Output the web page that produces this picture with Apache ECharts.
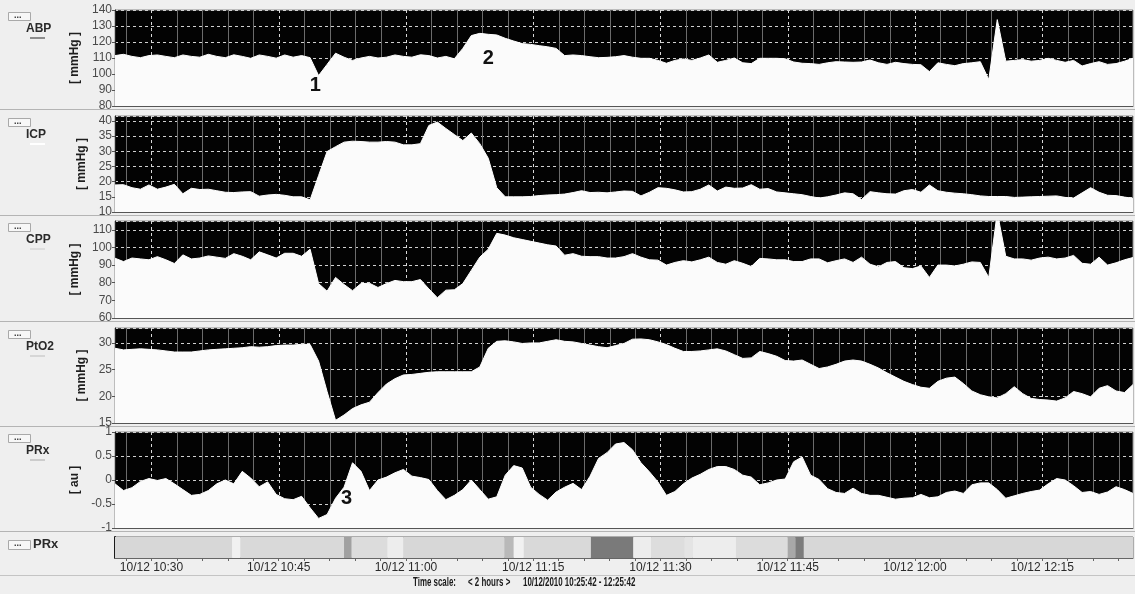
<!DOCTYPE html>
<html>
<head>
<meta charset="utf-8">
<title>ABP ICP CPP PtO2 PRx</title>
<script src="https://cdn.jsdelivr.net/npm/echarts@6/dist/echarts.min.js"></script>
<style>
    html, body { margin: 0; padding: 0; background: #efefef; }
    #chart { width: 1135px; height: 594px; }
</style>
</head>
<body>
<div id="chart"></div>
<script>
// one sample per minute, minutes counted from 10:00 (first sample 10:25:42)
var sampleStart = 25.7;
var sampleStep = 1;

var abpValues = [
    111.5, 112.3, 111, 110.2, 111.5, 111.9, 111, 110.2, 111.9, 111,
    110.5, 112.3, 111, 110.2, 112, 111, 109.8, 111.9, 111, 109.9,
    111.9, 110.5, 111.5, 110.2, 99, 106, 113, 110.5, 108.5, 110,
    111, 110, 110.5, 111.9, 111, 110.5, 112, 111.5, 110, 111,
    109.5, 116, 124, 125.4, 124.8, 124.4, 122.3, 120.6, 119, 118.5,
    117.7, 117, 116, 111.5, 111.9, 111.5, 110.8, 110.2, 110.4, 110.8,
    111.5, 110.5, 109.8, 109.8, 108.5, 106.7, 108.5, 109.4, 108.5, 110,
    111.9, 107.3, 108.5, 110, 107, 106.5, 109.8, 109.8, 109.8, 109.5,
    107.5, 106.7, 106.5, 106, 107, 107.7, 107.5, 107.3, 107.5, 108.75,
    107, 106, 107.3, 106.5, 106, 105.8, 101.5, 107, 106, 105.2,
    106.5, 107, 107.7, 96.5, 134, 108, 108.5, 109, 108, 108.5,
    109.8, 108.5, 107.3, 108.5, 105, 106.5, 107.7, 106, 106.5, 108,
    109.8
];
var icpValues = [
    18.9, 19, 18, 17.5, 18.9, 17.5, 18.2, 19.1, 16, 17.8,
    17.4, 17.5, 17, 16.5, 16.4, 16.6, 16.7, 15.2, 15.6, 15.8,
    15.5, 15, 15, 14, 22, 29.9, 31.5, 33, 33.3, 33.2,
    33, 33, 33.2, 33, 32.1, 32.1, 32.5, 38.5, 39.6, 37.5,
    35.5, 33.5, 36, 32.5, 27.7, 18, 15, 15, 15, 15.1,
    15.4, 15.6, 15.7, 15.9, 16.4, 17, 16.4, 16.5, 16.3, 16.6,
    16.9, 16.8, 15.3, 16.5, 18, 17.8, 17.3, 16.6, 16.7, 17.5,
    18.9, 16.9, 18.2, 17.8, 17.9, 19, 17.5, 17.7, 16.6, 16.3,
    16, 15.7, 15.1, 14.6, 15, 15.6, 16.3, 16, 14.1, 16.7,
    16.3, 16, 15.9, 17, 17.4, 16.5, 18.9, 17, 16.5, 16.2,
    16, 15.7, 15.3, 15.1, 15.1, 15.1, 14.8, 14.9, 15, 15.1,
    15.2, 15.3, 14.8, 14.6, 16.3, 18, 16.5, 15.5, 15.4, 14.9,
    14.5
];
var cppValues = [
    93.9, 92, 94, 93.5, 93, 94.8, 93, 90.9, 95.8, 93.5,
    94, 95.2, 94.5, 93.8, 96.5, 95, 93, 97.5, 95.8, 94,
    96.7, 96.7, 95, 99, 79.5, 75.2, 83, 79, 75.5, 79.5,
    79.7, 77.3, 79.5, 81.3, 80.6, 80.6, 81.8, 76.5, 71.5, 75.8,
    76, 79.5, 87, 94.5, 99, 108, 107, 105.5, 104.5, 103.5,
    102.5, 101.5, 100.8, 95.6, 96.5, 95, 94.8, 94.8, 94, 94,
    94.8, 96.5, 94.5, 93, 92.8, 90, 91.5, 92.5, 91.8, 93,
    94.5, 91.5, 90.5, 92.5, 91, 89.2, 93.8, 93.5, 93, 93,
    92, 92, 93.5, 93.5, 91.3, 92.5, 93.5, 91.5, 94.5, 90.5,
    89, 91.5, 92, 88.5, 88, 89.5, 83, 90, 90, 89.5,
    90.5, 91.8, 91.5, 83, 120, 95, 93.5, 93.5, 92.8, 94,
    94.5, 93.5, 94, 95.5, 91, 90.5, 94.5, 90, 91.3, 93,
    94.3
];
var pto2Values = [
    29, 28.7, 28.8, 28.9, 28.8, 28.7, 28.5, 28.3, 28.3, 28.3,
    28.5, 28.7, 28.8, 28.9, 29, 29.1, 29.3, 29.2, 29.3, 29.5,
    29.6, 29.6, 29.75, 29.7, 26.6, 20.9, 15.5, 16.5, 17.7, 18.4,
    18.9, 20.7, 22.3, 23.3, 24, 24.1, 24.3, 24.5, 24.6, 24.6,
    24.6, 24.6, 24.6, 25.5, 29, 30.3, 30.4, 30.2, 29.9, 30,
    30, 30.3, 30.6, 30.3, 30.2, 29.9, 29.6, 29.3, 29.1, 29.5,
    29.9, 30.7, 30.75, 30.6, 30.2, 29.7, 29, 28.4, 28.4, 28.5,
    28.7, 28.9, 28.5, 27.8, 27.1, 27.2, 28.4, 28, 27.5, 26.7,
    26.6, 26.8, 26, 25.2, 25.5, 26, 26.6, 26.8, 26.6, 26,
    25.3, 24.4, 23.6, 22.8, 22.2, 21.7, 21.5, 22.8, 23.4, 23.6,
    22.4, 21, 20.3, 19.9, 19.7, 20.5, 21.8, 20.5, 19.6, 19.4,
    19.3, 19.1, 19.7, 20.9, 20.5, 19.9, 21.5, 22, 21, 20.7,
    22.2
];
var prxValues = [
    -0.08, -0.22, -0.16, -0.03, 0.03, -0.01, 0.03, -0.08, -0.2, -0.32,
    -0.3, -0.22, -0.08, 0, -0.08, 0.18, 0.04, -0.14, -0.04, -0.3,
    -0.39, -0.41, -0.34, -0.58, -0.8, -0.72, -0.38, -0.15, 0.36, 0.18,
    -0.22, 0, 0.06, 0.15, 0.22, 0.08, 0.05, 0.01, -0.22, -0.41,
    -0.32, -0.2, 0, -0.2, -0.4, -0.35, 0.1, 0.3, 0.25, -0.15,
    -0.3, -0.42, -0.25, -0.15, -0.07, -0.2, 0.08, 0.45, 0.57, 0.75,
    0.78, 0.63, 0.36, 0.17, -0.04, -0.32, -0.24, -0.08, 0.04, 0.12,
    0.22, 0.28, 0.28, 0.22, 0.1, 0.06, -0.1, -0.06, 0, 0.02,
    0.38, 0.48, 0.1, 0.01, -0.18, -0.26, -0.28, -0.17, -0.28, -0.32,
    -0.32, -0.36, -0.4, -0.38, -0.37, -0.3, -0.37, -0.35, -0.26, -0.23,
    -0.28, -0.1, -0.06, -0.06, -0.2, -0.38, -0.33, -0.28, -0.24, -0.21,
    -0.08, 0.03, 0, -0.12, -0.26, -0.24, -0.3, -0.25, -0.14, -0.2,
    -0.28
];

// PRx colour band: segment start / end (minutes from 10:00) and shade level
var bandStart = [25.7, 39.5, 40.5, 52.7, 53.6, 57.8, 59.7, 71.6, 72.7, 73.9,
    81.8, 86.8, 88.9, 92.8, 93.8, 98.9, 105.0, 105.9, 106.9];
var bandEnd = [39.5, 40.5, 52.7, 53.6, 57.8, 59.7, 71.6, 72.7, 73.9, 81.8,
    86.8, 88.9, 92.8, 93.8, 98.9, 105.0, 105.9, 106.9, 145.7];
var bandLevel = [0.22, 0.01, 0.2, 0.65, 0.18, 0.04, 0.22, 0.46, 0.01, 0.2,
    0.97, 0.04, 0.17, 0.11, 0.04, 0.18, 0.6, 0.95, 0.22];

// time ticks (minutes from 10:00)
var labelMinutes = [30, 45, 60, 75, 90, 105, 120, 135];
var gridMinutes = [27, 30, 33, 36, 39, 42, 45, 48, 51, 54, 57, 60, 63, 66,
    69, 72, 75, 78, 81, 84, 87, 90, 93, 96, 99, 102, 105, 108, 111, 114,
    117, 120, 123, 126, 129, 132, 135, 138, 141, 144];

// numbered event marks
var abpNotes = [['1', 49.3, 92.8], ['2', 69.7, 109.8]];
var prxNotes = [['3', 53.0, -0.39]];

var panels = [
    {name: 'ABP', unit: '[ mmHg ]', values: abpValues, min: 80, max: 140, step: 10, top: 10, height: 96, swatch: '#8c8c8c'},
    {name: 'ICP', unit: '[ mmHg ]', values: icpValues, min: 10, max: 41.6, step: 5, top: 116, height: 96, swatch: '#ffffff'},
    {name: 'CPP', unit: '[ mmHg ]', values: cppValues, min: 60, max: 115, step: 10, top: 221, height: 97, swatch: '#dddddd'},
    {name: 'PtO2', unit: '[ mmHg ]', values: pto2Values, min: 15, max: 32.8, step: 5, top: 328, height: 95, swatch: '#d6d6d6'},
    {name: 'PRx', unit: '[ au ]', values: prxValues, min: -1, max: 1, step: 0.5, top: 432, height: 96, swatch: '#cccccc'}
];

var FONT = '"Liberation Sans", Arial, sans-serif';

function pad(n) {
    return n < 10 ? '0' + n : '' + n;
}

function clockLabel(m) {
    var h = 10 + Math.floor(m / 60);
    return '10/12 ' + h + ':' + pad(Math.round(m % 60));
}

function toPoints(values) {
    var pts = [];
    for (var i = 0; i < values.length; i++) {
        pts.push([sampleStart + i * sampleStep, values[i]]);
    }
    return pts;
}

function renderGridLine(params, api) {
    var cs = params.coordSys;
    var x = Math.round(api.coord([api.value(0), api.value(1)])[0]) + 0.5;
    var major = Math.round(api.value(0)) % 15 === 0;
    return {
        type: 'line',
        shape: {x1: x, y1: cs.y, x2: x, y2: cs.y + cs.height},
        style: major ?
            {stroke: '#d8d8d8', lineWidth: 1, lineDash: [3, 3]} :
            {stroke: '#6b6b6b', lineWidth: 1}
    };
}

function renderBand(params, api) {
    var a = api.coord([api.value(0), 1]);
    var b = api.coord([api.value(1), 0]);
    return {
        type: 'rect',
        shape: {x: a[0], y: a[1], width: b[0] - a[0], height: b[1] - a[1]},
        style: {fill: api.visual('color')}
    };
}

function noteMarks(notes) {
    return {
        symbol: 'circle',
        symbolSize: 0,
        silent: true,
        label: {
            show: true,
            position: 'inside',
            formatter: '{b}',
            fontFamily: FONT,
            fontSize: 20,
            fontWeight: 'bold',
            color: '#111'
        },
        data: notes.map(function(n) {
            return {name: n[0], coord: [n[1], n[2]]};
        })
    };
}

function buildOption() {
    var grids = [], xAxes = [], yAxes = [], series = [], graphics = [];

    panels.forEach(function(p, i) {
        grids.push({
            left: 115, right: 2, top: p.top, height: p.height,
            show: true, backgroundColor: '#030303',
            borderColor: '#8a8a8a', borderWidth: 1
        });
        xAxes.push({
            type: 'value', gridIndex: i, min: sampleStart, max: 145.7,
            axisLine: {show: true, onZero: false, lineStyle: {color: '#555'}},
            axisTick: {show: false},
            axisLabel: {show: false},
            splitLine: {show: false}
        });
        yAxes.push({
            type: 'value', gridIndex: i, min: p.min, max: p.max, interval: p.step,
            name: p.unit,
            nameLocation: 'middle',
            nameRotate: 90,
            nameGap: 21,
            nameTextStyle: {fontFamily: FONT, fontSize: 12, fontWeight: 'bold', color: '#1e1e1e'},
            axisLine: {show: true, lineStyle: {color: '#222'}},
            axisTick: {show: true, length: 3, lineStyle: {color: '#555'}},
            axisLabel: {
                margin: 3, fontFamily: FONT, fontSize: 12, color: '#4a4a4a',
                showMaxLabel: p.max % p.step === 0
            },
            splitLine: {show: true, lineStyle: {color: '#d0d0d0', width: 1, type: [3, 3]}}
        });
        series.push({
            type: 'custom',
            xAxisIndex: i, yAxisIndex: i,
            silent: true,
            z: 1,
            renderItem: renderGridLine,
            data: gridMinutes.map(function(m) { return [m, p.min]; })
        });
        var line = {
            name: p.name,
            type: 'line',
            xAxisIndex: i, yAxisIndex: i,
            data: toPoints(p.values),
            symbol: 'none',
            silent: true,
            z: 3,
            lineStyle: {color: '#ffffff', width: 1},
            areaStyle: {color: '#fbfbfb', opacity: 1, origin: 'start'}
        };
        if (p.name === 'ABP') line.markPoint = noteMarks(abpNotes);
        if (p.name === 'PRx') line.markPoint = noteMarks(prxNotes);
        series.push(line);

        // left side: button, title and colour swatch
        graphics.push({
            type: 'rect', left: 8, top: p.top + 2,
            shape: {width: 22, height: 8},
            style: {fill: '#f7f7f7', stroke: '#a9a9a9', lineWidth: 1}
        });
        graphics.push({
            type: 'text', left: 14, top: p.top + 1,
            style: {text: '...', fontSize: 9, fontWeight: 'bold', fill: '#333', fontFamily: FONT}
        });
        graphics.push({
            type: 'text', left: 26, top: p.top + 13,
            style: {text: p.name, fontSize: 12, fontWeight: 'bold', fill: '#2a2a2a', fontFamily: FONT}
        });
        graphics.push({
            type: 'rect', left: 30, top: p.top + 27,
            shape: {width: 15, height: 2},
            style: {fill: p.swatch}
        });
        // panel separator
        graphics.push({
            type: 'rect', left: 0, top: p.top + p.height + 3,
            shape: {width: 1135, height: 1},
            style: {fill: '#b4b4b4'}
        });
    });

    // PRx colour band
    var bi = panels.length;
    grids.push({
        left: 115, right: 2, top: 537, height: 21,
        show: true, backgroundColor: '#d8d8d8',
        borderColor: '#6a6a6a', borderWidth: 1
    });
    xAxes.push({
        type: 'value', gridIndex: bi, min: sampleStart, max: 145.7,
        axisLine: {show: true, onZero: false, lineStyle: {color: '#666'}},
        axisTick: {show: true, length: 3, customValues: gridMinutes, lineStyle: {color: '#666'}},
        axisLabel: {
            show: true, margin: 4, customValues: labelMinutes,
            fontFamily: FONT, fontSize: 12, color: '#2a2a2a',
            formatter: clockLabel
        },
        splitLine: {show: false}
    });
    yAxes.push({
        type: 'value', gridIndex: bi, min: 0, max: 1,
        axisLine: {show: true, lineStyle: {color: '#1a1a1a', width: 2}},
        axisTick: {show: false},
        axisLabel: {show: false},
        splitLine: {show: false}
    });
    var bandData = bandStart.map(function(s, i) {
        return [s, bandEnd[i], bandLevel[i]];
    });
    series.push({
        type: 'custom',
        xAxisIndex: bi, yAxisIndex: bi,
        silent: true,
        renderItem: renderBand,
        encode: {x: [0, 1]},
        data: bandData
    });

    graphics.push({
        type: 'rect', left: 8, top: 540,
        shape: {width: 22, height: 9},
        style: {fill: '#f7f7f7', stroke: '#a9a9a9', lineWidth: 1}
    });
    graphics.push({
        type: 'text', left: 14, top: 539,
        style: {text: '...', fontSize: 9, fontWeight: 'bold', fill: '#333', fontFamily: FONT}
    });
    graphics.push({
        type: 'text', left: 33, top: 538,
        style: {text: 'PRx', fontSize: 13, fontWeight: 'bold', fill: '#2a2a2a', fontFamily: FONT}
    });
    graphics.push({
        type: 'rect', left: 0, top: 575,
        shape: {width: 1135, height: 1},
        style: {fill: '#c4c4c4'}
    });

    // footer, drawn in a condensed face
    [['Time scale:', 413], ['< 2 hours >', 468], ['10/12/2010 10:25:42 - 12:25:42', 523]].forEach(function(t) {
        graphics.push({
            type: 'text', x: t[1], y: 577, scaleX: 0.66,
            style: {text: t[0], fontSize: 12, fontWeight: 'bold', fill: '#1a1a1a', fontFamily: FONT}
        });
    });

    return {
        backgroundColor: '#efefef',
        animation: false,
        grid: grids,
        xAxis: xAxes,
        yAxis: yAxes,
        visualMap: {
            type: 'continuous',
            show: false,
            seriesIndex: series.length - 1,
            dimension: 2,
            min: 0,
            max: 1,
            inRange: {color: ['#f2f2f2', '#767676']}
        },
        series: series,
        graphic: graphics
    };
}

var myChart = echarts.init(document.getElementById('chart'));
myChart.setOption(buildOption());
</script>
</body>
</html>
